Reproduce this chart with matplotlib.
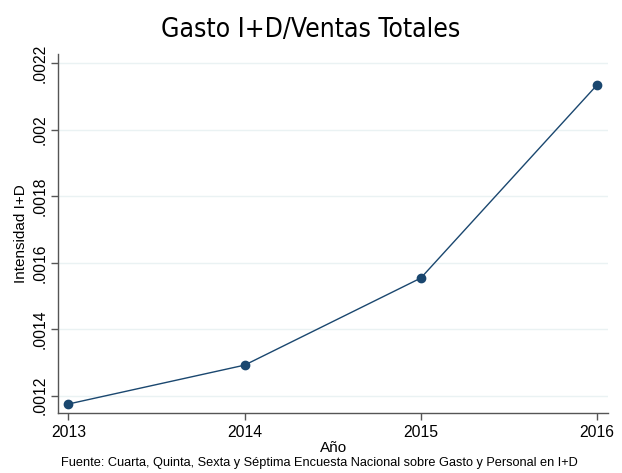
import matplotlib.pyplot as plt

# data
years = [2013, 2014, 2015, 2016]
intensidad = [0.001175, 0.001292, 0.001554, 0.002135]
yticks = [0.0012, 0.0014, 0.0016, 0.0018, 0.0020, 0.0022]
ytick_labels = ['.0012', '.0014', '.0016', '.0018', '.002', '.0022']

plt.rcParams['font.family'] = ['Liberation Sans', 'DejaVu Sans']

fig = plt.figure(figsize=(6.22, 4.73), dpi=100)
ax = fig.add_axes([0.094, 0.1258, 0.8835, 0.76])

ax.plot(years, intensidad, color='#1a476f', linewidth=1, marker='o', markersize=6)

ax.set_xlim(2012.944, 2016.062)
ax.set_ylim(0.0011465, 0.002228)
ax.set_xticks(years)
ax.set_xticklabels([str(y) for y in years], fontsize=11.3)
ax.set_yticks(yticks)
ax.set_yticklabels(ytick_labels, fontsize=11.3, rotation=90, va='center')
ax.grid(True, axis='y', color='#eaf2f3', linewidth=1)
ax.set_axisbelow(True)

for s in ['top', 'right']:
    ax.spines[s].set_visible(False)
for s in ['left', 'bottom']:
    ax.spines[s].set_color('#555555')
    ax.spines[s].set_linewidth(1)
ax.tick_params(color='#555555', length=5, width=1, pad=3)

ax.set_xlabel('Año', fontsize=11, labelpad=1)
ax.set_ylabel('Intensidad I+D', fontsize=11, labelpad=3)

fig.text(0.5, 0.937, 'Gasto I+D/Ventas Totales', ha='center', va='center',
         fontsize=19, family=['DejaVu Sans'], stretch='condensed')
fig.text(0.514, 0.021, 'Fuente: Cuarta, Quinta, Sexta y Séptima Encuesta Nacional sobre Gasto y Personal en I+D',
         ha='center', va='center', fontsize=9.2)

plt.savefig('out.png', dpi=100)
